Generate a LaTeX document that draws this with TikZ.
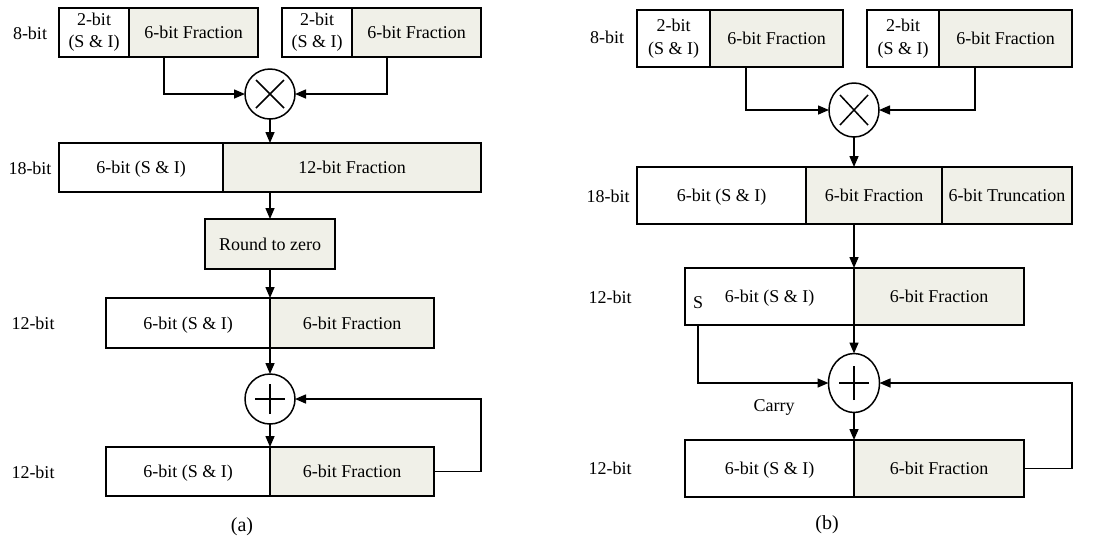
\documentclass[tikz,border=0pt]{standalone}
\usepackage{fontspec}
\setmainfont{Liberation Serif}
\usetikzlibrary{arrows.meta,shapes.geometric}
\definecolor{cellfill}{RGB}{240,240,232}
\begin{document}
\begin{tikzpicture}[x=1pt,y=-1pt,
  every node/.style={font=\fontsize{18}{21}\selectfont},
  cellbase/.style={draw,line width=1.5pt,rectangle,inner sep=0pt,outer sep=0pt},
  cell/.style={cellbase,text height=12.5pt,text depth=0.5pt},
  cell2/.style={cellbase,align=center},
  frac/.style={cell,fill=cellfill},
  op/.style={draw,line width=1.5pt,ellipse,inner sep=0pt,outer sep=0pt},
  lbl/.style={inner sep=0pt,text height=12.5pt,text depth=0.5pt},
  arr/.style={line width=1.5pt,-{Triangle[length=11pt,width=9pt]}},
  ln/.style={line width=1.5pt}]
\useasboundingbox (0,0) rectangle (1110,542);

% ---------------- panel (a) ----------------
\node[lbl] (la8) at (30,33) {8-bit};
\node[cell2,minimum width=70,minimum height=49] (a1s) at (94,32.5) {2-bit\\[1pt](S \& I)};
\node[frac,minimum width=129,minimum height=49] (a1f) at (193.5,32.5) {6-bit Fraction};
\node[cell2,minimum width=70,minimum height=49] (a2s) at (317,32.5) {2-bit\\[1pt](S \& I)};
\node[frac,minimum width=129,minimum height=49] (a2f) at (416.5,32.5) {6-bit Fraction};
\node[op,minimum width=50,minimum height=50] (mula) at (270,94) {};
\draw[ln] ([shift={(-14,-14)}]mula.center) -- ([shift={(14,14)}]mula.center)
          ([shift={(-14,14)}]mula.center) -- ([shift={(14,-14)}]mula.center);
\draw[arr] ([xshift=-29.5]a1f.south) |- (mula.west);
\draw[arr] ([xshift=-29.5]a2f.south) |- (mula.east);

\node[lbl] (la18) at (30,168) {18-bit};
\node[cell,minimum width=164,minimum height=49] (a18s) at (141,167.5) {6-bit (S \& I)};
\node[frac,minimum width=258,minimum height=49] (a18f) at (352,167.5) {12-bit Fraction};
\draw[arr] (mula.south) -- (mula |- a18f.north);

\node[frac,minimum width=130,minimum height=50] (around) at (270,244) {Round to zero};
\draw[arr] (mula |- a18f.south) -- (around.north);

\node[lbl] (la12) at (33,323) {12-bit};
\node[cell,minimum width=164,minimum height=50] (a12s) at (188,323) {6-bit (S \& I)};
\node[frac,minimum width=164,minimum height=50] (a12f) at (352,323) {6-bit Fraction};
\draw[arr] (around.south) -- (a12s.north east);

\node[op,minimum width=50,minimum height=50] (adda) at (270,399) {};
\draw[ln] ([xshift=-15]adda.center) -- ([xshift=15]adda.center)
          ([yshift=-15]adda.center) -- ([yshift=15]adda.center);
\draw[arr] (a12s.north east) -- (adda.north);

\node[lbl] (la12o) at (33,472) {12-bit};
\node[cell,minimum width=164,minimum height=49] (aos) at (188,471.5) {6-bit (S \& I)};
\node[frac,minimum width=164,minimum height=49] (aof) at (352,471.5) {6-bit Fraction};
\draw[arr] (adda.south) -- (aos.north east);
\coordinate (fa) at (481,399);
\draw[arr] (aof.east) -| (fa) -- (adda.east);

\node[inner sep=0pt,font=\fontsize{20}{24}\selectfont] (capa) at (242,527) {(a)};

% ---------------- panel (b) ----------------
\node[lbl] (lb8) at (607,37) {8-bit};
\node[cell2,minimum width=73,minimum height=57] (b1s) at (673.5,38.5) {2-bit\\[2pt](S \& I)};
\node[frac,minimum width=133,minimum height=57] (b1f) at (776.5,38.5) {6-bit Fraction};
\node[cell2,minimum width=72,minimum height=57] (b2s) at (903,38.5) {2-bit\\[2pt](S \& I)};
\node[frac,minimum width=133,minimum height=57] (b2f) at (1005.5,38.5) {6-bit Fraction};
\node[op,minimum width=50,minimum height=54] (mulb) at (854,110) {};
\draw[ln] ([shift={(-14,-15)}]mulb.center) -- ([shift={(14,15)}]mulb.center)
          ([shift={(-14,15)}]mulb.center) -- ([shift={(14,-15)}]mulb.center);
\draw[arr] ([xshift=-30.5]b1f.south) |- (mulb.west);
\draw[arr] ([xshift=-30.5]b2f.south) |- (mulb.east);

\node[lbl] (lb18) at (608,196) {18-bit};
\node[cell,minimum width=169,minimum height=57] (b18s) at (721.5,195.5) {6-bit (S \& I)};
\node[frac,minimum width=136,minimum height=57] (b18f) at (874,195.5) {6-bit Fraction};
\node[frac,minimum width=130,minimum height=57] (b18t) at (1007,195.5) {6-bit Truncation};
\draw[arr] (mulb.south) -- (mulb |- b18f.north);

\node[lbl] (lb12) at (610,297) {12-bit};
\node[cell,minimum width=169,minimum height=57] (b12s) at (769.5,296.5) {6-bit (S \& I)};
\node[frac,minimum width=170,minimum height=57] (b12f) at (939,296.5) {6-bit Fraction};
\node[lbl] (sb) at (698,302) {S};
\draw[arr] (mulb |- b18f.south) -- (b12s.north east);

\node[op,minimum width=51,minimum height=59] (addb) at (854,383) {};
\draw[ln] ([xshift=-15]addb.center) -- ([xshift=15]addb.center)
          ([yshift=-17]addb.center) -- ([yshift=17]addb.center);
\draw[arr] (b12s.north east) -- (addb.north);
\draw[arr] (b12s.south -| sb) |- (addb.west);
\node[lbl] (carry) at (774,405) {Carry};

\node[lbl] (lb12o) at (610,468) {12-bit};
\node[cell,minimum width=169,minimum height=57] (bos) at (769.5,468.5) {6-bit (S \& I)};
\node[frac,minimum width=170,minimum height=57] (bof) at (939,468.5) {6-bit Fraction};
\draw[arr] (addb.south) -- (bos.north east);
\coordinate (fb) at (1072,383);
\draw[arr] (bof.east) -| (fb) -- (addb.east);

\node[inner sep=0pt,font=\fontsize{20}{24}\selectfont] (capb) at (827,525) {(b)};
\end{tikzpicture}
\end{document}
